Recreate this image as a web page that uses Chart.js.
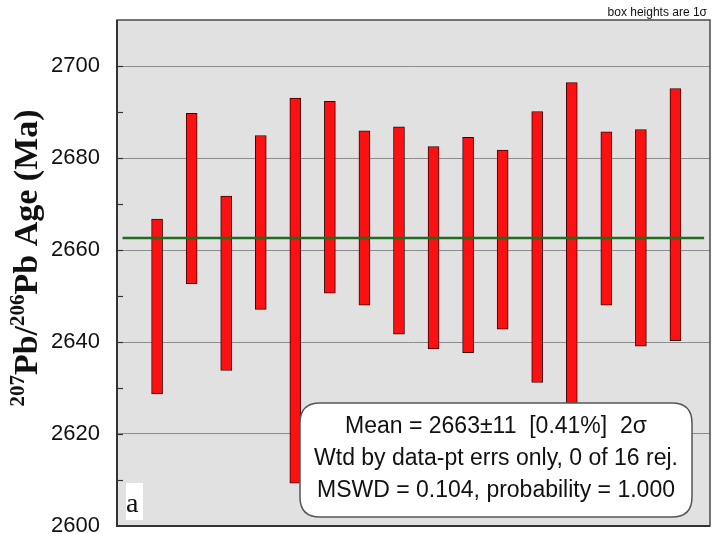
<!DOCTYPE html>
<html>
<head>
<meta charset="utf-8">
<title>207Pb/206Pb ages</title>
<script src="https://cdn.jsdelivr.net/npm/chart.js@4.4.1/dist/chart.umd.min.js"></script>
<style>
  html, body { margin: 0; padding: 0; background: #fff; }
  canvas { display: block; }
</style>
</head>
<body>
<canvas id="ageChart" width="712" height="534"></canvas>
<script>
// Spot analyses, 1 sigma age ranges (Ma)
const spots = [1, 2, 3, 4, 5, 6, 7, 8, 9, 10, 11, 12, 13, 14, 15, 16];
const ageLow = [2628.7, 2652.7, 2633.8, 2647.1, 2609.3, 2650.6, 2648.0, 2641.7,
                2638.5, 2637.7, 2642.8, 2631.2, 2624.0, 2648.0, 2639.1, 2640.3];
const ageHigh = [2666.7, 2689.7, 2671.7, 2684.9, 2693.0, 2692.3, 2685.9, 2686.8,
                 2682.5, 2684.5, 2681.7, 2690.1, 2696.4, 2685.7, 2686.2, 2695.1];

// Weighted mean result
const meanAge = 2662.6;
const meanErr = 11;
const meanPct = 0.41;
const mswd = 0.104;
const probability = 1.000;
const rejected = 0;

const yTicks = [2600, 2620, 2640, 2660, 2680, 2700];

function drawYTitle(ctx) {
    // 207Pb/206Pb Age (Ma), rotated, with superscript mass numbers
    const big = 'bold 34px "Liberation Serif", "Times New Roman", serif';
    const small = 'bold 21px "Liberation Serif", "Times New Roman", serif';
    const parts = [
        { t: '207', f: small, up: 13 },
        { t: 'Pb/', f: big, up: 0 },
        { t: '206', f: small, up: 13 },
        { t: 'Pb Age (Ma)', f: big, up: 0 }
    ];
    ctx.save();
    let total = 0;
    parts.forEach(p => { ctx.font = p.f; p.w = ctx.measureText(p.t).width; total += p.w; });
    ctx.translate(37, 258);
    ctx.rotate(-Math.PI / 2);
    ctx.fillStyle = '#111';
    ctx.textBaseline = 'alphabetic';
    ctx.textAlign = 'left';
    let x = -total / 2;
    parts.forEach(p => {
        ctx.font = p.f;
        ctx.fillText(p.t, x, -p.up);
        x += p.w;
    });
    ctx.restore();
}

function roundRect(ctx, x, y, w, h, r) {
    ctx.beginPath();
    ctx.moveTo(x + r, y);
    ctx.lineTo(x + w - r, y);
    ctx.quadraticCurveTo(x + w, y, x + w, y + r);
    ctx.lineTo(x + w, y + h - r);
    ctx.quadraticCurveTo(x + w, y + h, x + w - r, y + h);
    ctx.lineTo(x + r, y + h);
    ctx.quadraticCurveTo(x, y + h, x, y + h - r);
    ctx.lineTo(x, y + r);
    ctx.quadraticCurveTo(x, y, x + r, y);
    ctx.closePath();
}

const isoplotDecor = {
    id: 'isoplotDecor',
    beforeDraw(chart) {
        const { ctx, chartArea: a } = chart;
        ctx.save();
        ctx.fillStyle = '#e1e1e1';
        ctx.fillRect(a.left, a.top, a.right - a.left, a.bottom - a.top);
        ctx.restore();
    },
    afterDatasetsDraw(chart) {
        const { ctx, chartArea: a } = chart;
        const yScale = chart.scales.y;

        // inward tick marks every 10 Ma
        ctx.save();
        ctx.strokeStyle = '#333';
        ctx.lineWidth = 1.2;
        for (let v = 2610; v < 2710; v += 10) {
            const py = Math.round(yScale.getPixelForValue(v)) + 0.5;
            ctx.beginPath();
            ctx.moveTo(a.left, py);
            ctx.lineTo(a.left + 6, py);
            ctx.stroke();
        }

        // frame
        ctx.strokeStyle = '#4a4a4a';
        ctx.lineWidth = 1.5;
        ctx.strokeRect(a.left, a.top, a.right - a.left, a.bottom - a.top);
        ctx.strokeStyle = '#333';
        ctx.lineWidth = 2;
        ctx.beginPath();
        ctx.moveTo(a.left, a.top);
        ctx.lineTo(a.left, a.bottom);
        ctx.lineTo(a.right, a.bottom);
        ctx.stroke();

        // results box
        roundRect(ctx, 300, 403, 392, 114, 20);
        ctx.fillStyle = '#fff';
        ctx.fill();
        ctx.strokeStyle = '#555';
        ctx.lineWidth = 1.5;
        ctx.stroke();

        ctx.fillStyle = '#111';
        ctx.font = '23px "Liberation Sans", Arial, sans-serif';
        ctx.textAlign = 'center';
        ctx.textBaseline = 'alphabetic';
        const cx = 496;
        ctx.fillText('Mean = ' + meanAge.toFixed(0) + '\u00b1' + meanErr +
            '  [' + meanPct.toFixed(2) + '%]  2\u03c3', cx, 433);
        ctx.fillText('Wtd by data-pt errs only, ' + rejected + ' of ' + spots.length +
            ' rej.', cx, 465);
        ctx.fillText('MSWD = ' + mswd.toFixed(3) + ', probability = ' +
            probability.toFixed(3), cx, 497);

        // panel letter
        ctx.fillStyle = '#fff';
        ctx.fillRect(126, 483, 17, 37);
        ctx.fillStyle = '#111';
        ctx.font = '28px "Liberation Serif", "Times New Roman", serif';
        ctx.textAlign = 'left';
        ctx.fillText('a', 126, 512);

        // note above the frame
        ctx.font = '12px "Liberation Sans", Arial, sans-serif';
        ctx.textAlign = 'right';
        ctx.fillText('box heights are 1\u03c3', 707, 16);
        ctx.restore();

        drawYTitle(ctx);
    }
};

const ctx = document.getElementById('ageChart').getContext('2d');
new Chart(ctx, {
    type: 'bar',
    data: {
        datasets: [{
            type: 'line',
            label: 'Weighted mean',
            data: [{ x: 0, y: meanAge }, { x: 16.83, y: meanAge }],
            borderColor: '#1d6e1d',
            borderWidth: 2.5,
            pointRadius: 0,
            order: 0
        }, {
            label: 'Spot ages',
            data: spots.map((s, i) => ({ x: s, y: [ageLow[i], ageHigh[i]] })),
            backgroundColor: '#fb1111',
            borderColor: '#3b0505',
            borderWidth: 1,
            borderSkipped: false,
            barThickness: 11,
            order: 1
        }]
    },
    options: {
        responsive: false,
        animation: false,
        layout: { padding: { left: 0, right: 2, top: 20, bottom: 8 } },
        plugins: {
            legend: { display: false },
            tooltip: { enabled: false }
        },
        scales: {
            x: {
                type: 'linear',
                min: -0.16,
                max: 17,
                offset: false,
                display: false
            },
            y: {
                min: 2600,
                max: 2710,
                afterFit(scale) {
                    scale.width = 117;
                    scale.paddingTop = 0;
                    scale.paddingBottom = 0;
                },
                afterBuildTicks(scale) {
                    scale.ticks = yTicks.map(v => ({ value: v }));
                },
                ticks: {
                    autoSkip: false,
                    padding: 17,
                    color: '#111',
                    font: { family: '"Liberation Sans", Arial, sans-serif', size: 22 },
                    callback: v => String(v)
                },
                grid: {
                    drawTicks: false,
                    color: '#8c8c8c',
                    lineWidth: 1
                },
                border: { display: false }
            }
        }
    },
    plugins: [isoplotDecor]
});
</script>
</body>
</html>
